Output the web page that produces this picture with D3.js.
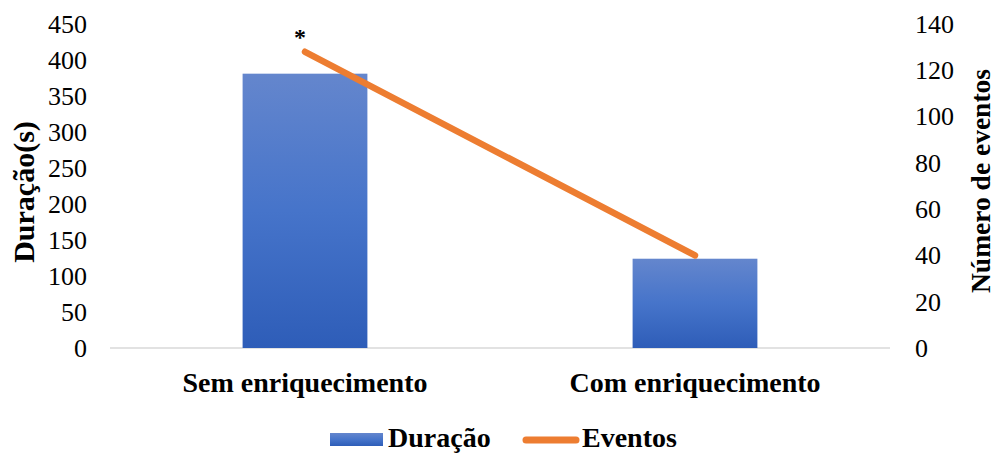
<!DOCTYPE html>
<html>
<head>
<meta charset="utf-8">
<script src="https://cdn.jsdelivr.net/npm/d3@7"></script>
</head>
<body style="margin:0; background:#fff">
<svg id="chart"></svg>
<script>
// data
var categories = ["Sem enriquecimento", "Com enriquecimento"];
var duracao = [381, 124];
var eventos = [128, 40];
var leftTicks = [0, 50, 100, 150, 200, 250, 300, 350, 400, 450];
var rightTicks = [0, 20, 40, 60, 80, 100, 120, 140];
var marks = ["*", ""];

var screen = { width: 995, height: 454 };
var margins = { top: 24, bottom: 106, left: 110, right: 105 };
var serif = "'Liberation Serif', 'Times New Roman', serif";

var width = screen.width - margins.left - margins.right;
var height = screen.height - margins.top - margins.bottom;

var svg = d3.select("#chart")
            .attr("width", screen.width)
            .attr("height", screen.height);

var defs = svg.append("defs");
var grad = defs.append("linearGradient")
               .attr("id", "barGrad")
               .attr("x1", 0).attr("y1", 0).attr("x2", 0).attr("y2", 1);
grad.append("stop").attr("offset", "0%").attr("stop-color", "#6486cd");
grad.append("stop").attr("offset", "50%").attr("stop-color", "#4674ca");
grad.append("stop").attr("offset", "100%").attr("stop-color", "#2e5db8");

var xScale = d3.scaleBand()
               .domain(categories)
               .range([0, width])
               .paddingInner(0.68)
               .paddingOuter(0.34);

var yLeft = d3.scaleLinear().domain([0, 450]).range([height, 0]);
var yRight = d3.scaleLinear().domain([0, 140]).range([height, 0]);

var plot = svg.append("g")
              .attr("transform", "translate(" + margins.left + "," + margins.top + ")");

// baseline
plot.append("line")
    .attr("x1", 0).attr("x2", width)
    .attr("y1", height).attr("y2", height)
    .attr("stroke", "#d9d9d9")
    .attr("stroke-width", 1.5);

// bars
plot.selectAll("rect.bar")
    .data(duracao)
    .enter()
    .append("rect")
    .attr("class", "bar")
    .attr("x", function(d, i) { return xScale(categories[i]); })
    .attr("width", xScale.bandwidth())
    .attr("y", function(d) { return yLeft(d); })
    .attr("height", function(d) { return height - yLeft(d); })
    .attr("fill", "url(#barGrad)");

// line
var line = d3.line()
             .x(function(d, i) { return xScale(categories[i]) + xScale.bandwidth() / 2; })
             .y(function(d) { return yRight(d); });

plot.append("path")
    .datum(eventos)
    .attr("d", line)
    .attr("fill", "none")
    .attr("stroke", "#ed7d31")
    .attr("stroke-width", 6.5)
    .attr("stroke-linecap", "round");

// significance mark
plot.selectAll("text.mark")
    .data(marks)
    .enter()
    .append("text")
    .attr("class", "mark")
    .attr("x", function(d, i) { return xScale(categories[i]) + xScale.bandwidth() / 2 - 5; })
    .attr("y", function(d, i) { return yRight(eventos[i]) - 7; })
    .attr("text-anchor", "middle")
    .attr("font-size", "24px")
    .attr("font-weight", "bold")
    .text(function(d) { return d; });

// axes
var leftAxis = d3.axisLeft(yLeft).tickValues(leftTicks).tickSize(0).tickPadding(23);
var rightAxis = d3.axisRight(yRight).tickValues(rightTicks).tickSize(0).tickPadding(25);
var bottomAxis = d3.axisBottom(xScale).tickSize(0).tickPadding(24);

var gl = plot.append("g").call(leftAxis);
var gr = plot.append("g").attr("transform", "translate(" + width + ",0)").call(rightAxis);
var gb = plot.append("g").attr("transform", "translate(0," + height + ")").call(bottomAxis);

[gl, gr, gb].forEach(function(g) {
  g.select(".domain").remove();
  g.attr("font-family", serif);
  g.selectAll("text").attr("fill", "#000");
});
gl.selectAll("text").attr("font-size", "26px");
gr.selectAll("text").attr("font-size", "26px");
gb.selectAll("text").attr("font-size", "28px").attr("font-weight", "bold");

// axis titles
svg.append("text")
   .attr("transform", "translate(34,192) rotate(-90)")
   .attr("text-anchor", "middle")
   .attr("font-size", "30px")
   .attr("font-weight", "bold")
   .text("Duração(s)");

svg.append("text")
   .attr("transform", "translate(990,181) rotate(-90)")
   .attr("text-anchor", "middle")
   .attr("font-size", "27.5px")
   .attr("font-weight", "bold")
   .text("Número de eventos");

// legend
var legend = svg.append("g").attr("transform", "translate(330,439)");
legend.append("rect")
      .attr("x", 0).attr("y", -6)
      .attr("width", 53).attr("height", 13)
      .attr("fill", "url(#barGrad)");
legend.append("text")
      .attr("x", 58).attr("y", 8)
      .attr("font-size", "28px")
      .attr("font-weight", "bold")
      .text("Duração");
legend.append("line")
      .attr("x1", 196).attr("x2", 246)
      .attr("y1", 1).attr("y2", 1)
      .attr("stroke", "#ed7d31")
      .attr("stroke-width", 7)
      .attr("stroke-linecap", "round");
legend.append("text")
      .attr("x", 252).attr("y", 8)
      .attr("font-size", "28px")
      .attr("font-weight", "bold")
      .text("Eventos");

// serif font on every text
svg.selectAll("text")
   .attr("font-family", serif)
   .style("font-family", serif);
</script>
</body>
</html>
